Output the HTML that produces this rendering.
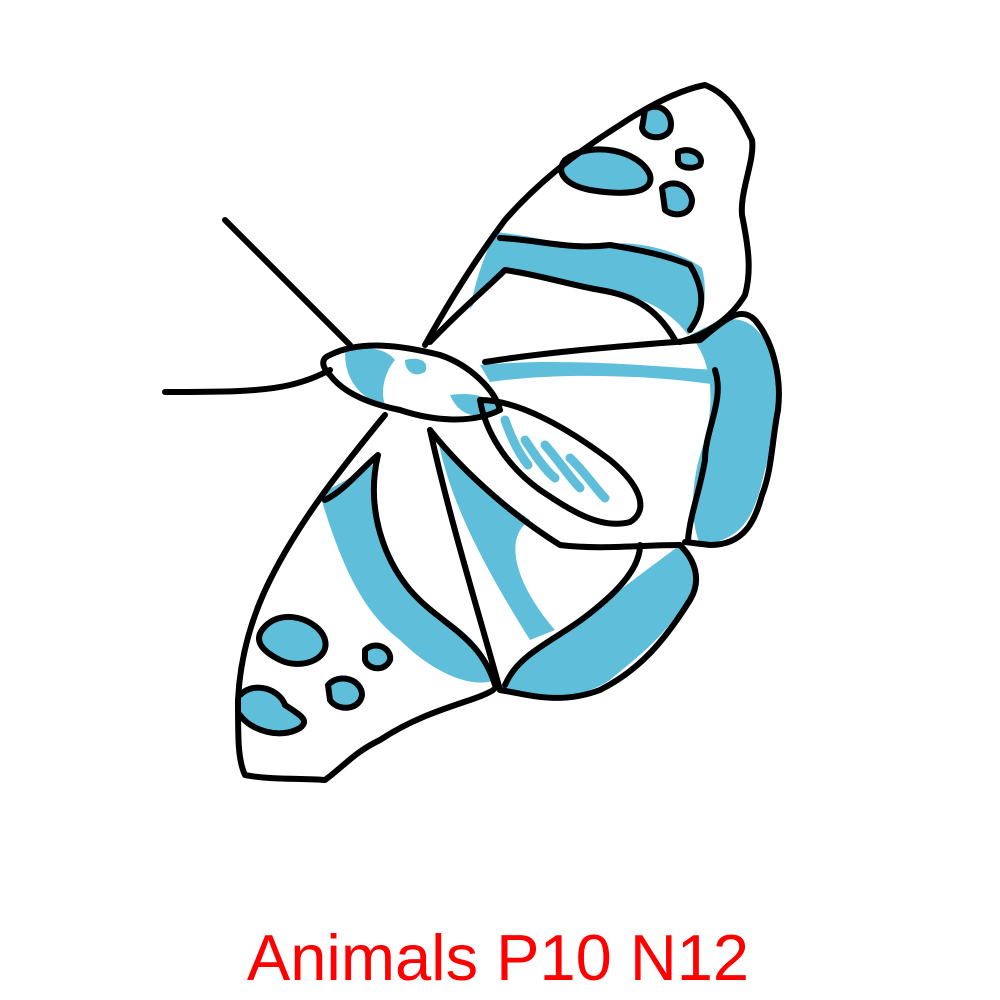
<!DOCTYPE html>
<html><head><meta charset="utf-8"><style>
html,body{margin:0;padding:0;background:#fff;width:1000px;height:1000px;overflow:hidden}
svg{display:block}
</style></head><body>
<svg width="1000" height="1000" viewBox="0 0 1000 1000">
<g fill="#5fbfda" stroke="none">
  <path d="M565,160 C590,140 640,150 650,175 C655,195 620,195 590,190 C565,185 555,172 565,160Z"/>
  <path d="M645,110 C660,100 675,115 670,130 C665,140 645,140 642,128Z"/>
  <path d="M678,152 C690,146 705,155 700,165 C692,170 678,168 678,160Z"/>
  <path d="M662,188 C672,178 690,185 692,200 C692,215 675,218 665,210Z"/>
  <path d="M495,232 C540,236 575,250 610,244 C650,240 690,258 702,268 C710,300 700,325 688,335 C670,310 640,295 600,290 C570,282 540,275 505,270 C490,285 475,300 470,310 C475,280 485,255 495,232Z"/>
  <path d="M690,335 C720,320 745,305 768,345 C782,380 775,440 765,470 C755,510 748,540 700,545 C690,520 690,480 705,440 C715,400 712,360 690,335Z"/>
  <path d="M480,365 C560,358 640,365 715,370 L718,385 C650,375 560,372 490,382Z"/>
  <path d="M438,440 C470,470 500,500 530,520 C500,540 520,590 555,630 L530,640 C480,560 450,500 438,440Z"/>
  <path d="M505,690 C520,650 560,640 600,605 C640,575 660,560 680,545 C700,560 700,590 680,610 C660,640 640,655 610,680 C580,700 540,700 505,690Z"/>
  <path d="M320,495 C345,480 365,470 380,460 C360,520 390,560 410,590 C440,620 480,630 495,680 C470,690 430,670 400,640 C360,610 340,560 320,495Z"/>
  <path d="M262,630 C280,605 320,620 325,640 C330,660 300,670 280,660 C260,650 255,640 262,630Z"/>
  <path d="M365,650 C375,640 392,648 390,660 C385,672 368,670 365,660Z"/>
  <path d="M328,685 C340,672 362,680 362,695 C360,710 338,712 330,700Z"/>
  <path d="M240,695 C255,680 280,690 285,705 C300,715 310,720 300,728 C280,740 250,730 240,715Z"/>
  <path d="M345,352 C365,345 385,348 395,360 C385,372 380,390 385,405 C365,400 345,385 345,352Z"/>
  <path d="M405,360 C420,356 430,362 425,372 C415,378 405,372 405,360Z"/>
  <path d="M450,395 C470,392 490,395 500,410 C480,420 460,418 450,395Z"/>
</g>
<g fill="none" stroke="#5fbfda" stroke-width="9" stroke-linecap="round">
  <path d="M505,420 C512,440 520,455 528,465"/>
  <path d="M525,440 C535,455 545,470 555,478"/>
  <path d="M545,445 C560,462 570,478 580,488"/>
  <path d="M570,458 C585,472 595,488 605,498"/>
</g>
<g fill="none" stroke="#000" stroke-width="6" stroke-linecap="round" stroke-linejoin="round">
  <path d="M225,220 L350,345"/>
  <path d="M165,392 C220,392 260,392 290,385 C310,380 320,375 330,370"/>
  <path d="M425,345 C450,300 475,260 505,220 C540,180 580,150 620,125 C650,105 680,90 705,85 C730,95 740,115 752,140 C755,160 740,190 742,215 C748,245 752,270 745,295 C730,320 705,335 680,342"/>
  <path d="M500,238 C540,240 570,250 610,245 C640,250 665,255 690,265 C705,290 705,310 690,330"/>
  <path d="M565,160 C590,140 640,150 650,175 C655,195 620,195 590,190 C565,185 555,172 565,160Z M645,110 C660,100 675,115 670,130 C665,140 645,140 642,128Z M678,152 C690,146 705,155 700,165 C692,170 678,168 678,160Z M662,188 C672,178 690,185 692,200 C692,215 675,218 665,210Z"/>
  <path d="M430,342 C460,310 485,290 505,270 C540,275 570,285 600,290 C630,295 655,305 675,340"/>
  <path d="M485,362 C560,350 640,345 700,340"/>
  <path d="M700,340 C725,320 740,305 755,320 C772,340 782,375 778,410 C772,440 772,470 762,495 C755,520 745,545 710,545 L685,542"/>
  <path d="M715,370 C725,400 705,430 705,460 C700,490 690,515 688,540"/>
  <path d="M480,400 C520,400 570,430 610,460 C640,485 650,510 630,522 C600,530 570,510 540,490 C505,465 485,430 480,400Z"/>
  <path d="M330,355 C360,340 400,345 440,355 C470,365 495,390 500,410 C470,425 430,420 400,410 C375,405 345,395 330,375 C320,365 322,358 330,355Z"/>
  <path d="M385,415 C340,470 300,520 270,580 C250,620 240,660 238,700 C238,740 238,760 245,775 C270,780 300,778 325,780 C345,765 355,752 380,740 C410,720 440,710 470,700 C485,695 495,690 495,688"/>
  <path d="M325,500 C345,490 360,470 378,455 C365,510 385,560 410,590 C440,625 480,635 495,685"/>
  <path d="M430,430 C450,520 475,600 500,690"/>
  <path d="M500,690 C530,695 560,705 600,690 C640,670 665,640 690,600 C702,580 695,560 680,545"/>
  <path d="M505,685 C520,650 560,640 600,605 C630,580 640,560 640,545"/>
  <path d="M430,430 C470,480 520,520 560,545 C600,550 640,545 680,545"/>
  <path d="M262,630 C280,605 320,620 325,640 C330,660 300,670 280,660 C260,650 255,640 262,630Z M365,650 C375,640 392,648 390,660 C385,672 368,670 365,660Z M328,685 C340,672 362,680 362,695 C360,710 338,712 330,700Z M240,695 C255,680 280,690 285,705 C300,715 310,720 300,728 C280,740 250,730 240,715"/>
</g>
<text x="498" y="980" text-anchor="middle" font-family="Liberation Sans, sans-serif" font-size="65" fill="#ff0000">Animals P10 N12</text>
</svg>
</body></html>
